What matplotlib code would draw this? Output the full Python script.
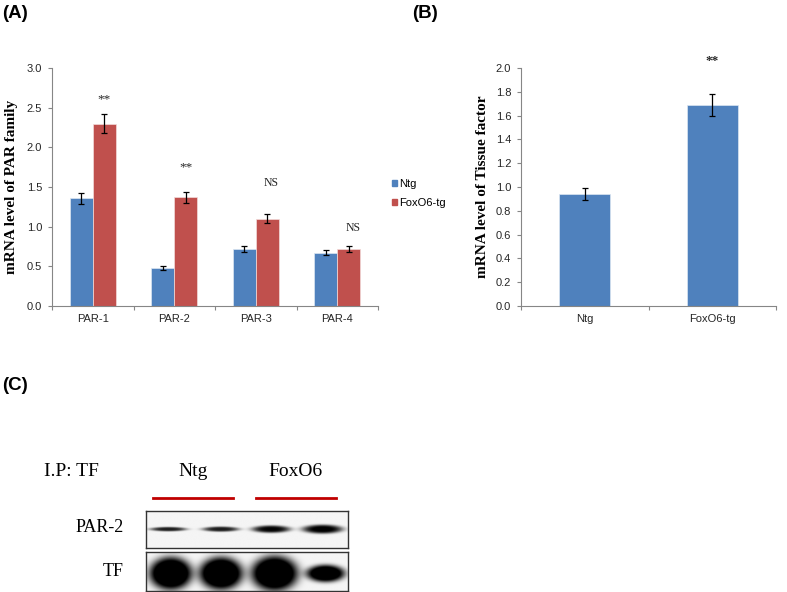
import numpy as np
import matplotlib
matplotlib.use("Agg")
import matplotlib.pyplot as plt
from matplotlib.patches import Patch

# panel A: PAR family mRNA
par_genes = ["PAR-1", "PAR-2", "PAR-3", "PAR-4"]
ntg_par = [1.36, 0.48, 0.72, 0.67]
ntg_par_err = [0.07, 0.03, 0.04, 0.03]
foxo_par = [2.30, 1.37, 1.10, 0.72]
foxo_par_err = [0.12, 0.07, 0.06, 0.04]
par_sig = ["**", "**", "NS", "NS"]
par_sig_y = [2.61, 1.75, 1.55, 0.98]

# panel B: tissue factor mRNA
tf_groups = ["Ntg", "FoxO6-tg"]
tf_vals = [0.94, 1.69]
tf_err = [0.05, 0.09]
tf_sig = ["", "**"]
tf_sig_y = [0, 2.06]

# panel C: blot bands (lane centre, half width, half height, strength)
par2_lane_x = [0.11, 0.37, 0.62, 0.875]
par2_half_w = [0.09, 0.09, 0.095, 0.10]
par2_half_h = [0.06, 0.07, 0.10, 0.12]
par2_strength = [0.85, 0.85, 0.95, 1.0]
tf_lane_x = [0.122, 0.371, 0.637, 0.89]
tf_half_w = [0.105, 0.107, 0.115, 0.095]
tf_half_h = [0.42, 0.42, 0.45, 0.22]
tf_strength = [1.4, 1.4, 1.4, 1.3]

BLUE = "#4F81BD"
RED = "#C0504D"
GRID = "#868686"
TXT = "#262626"

W, H = 787, 592
fig = plt.figure(figsize=(W / 100, H / 100), dpi=100)


def px(x0, y0, x1, y1):
    return [x0 / W, 1 - y1 / H, (x1 - x0) / W, (y1 - y0) / H]


def excel_axes(ax, ncat):
    for s in ["top", "right"]:
        ax.spines[s].set_visible(False)
    for s in ["left", "bottom"]:
        ax.spines[s].set_color(GRID)
        ax.spines[s].set_linewidth(0.8)
    ax.set_xlim(-0.5, ncat - 0.5)
    ax.set_xticks(range(ncat))
    ax.set_xticks(np.arange(-0.5, ncat, 1.0), minor=True)
    ax.tick_params(axis="x", which="major", length=0, pad=6, labelsize=8, labelcolor=TXT)
    ax.tick_params(axis="x", which="minor", length=3, color=GRID, width=0.8)
    ax.tick_params(axis="y", length=3, color=GRID, width=0.8, labelsize=8, labelcolor=TXT, pad=4)
    for lab in ax.get_xticklabels() + ax.get_yticklabels():
        lab.set_family("Liberation Sans")


# ---- (A)
axA = fig.add_axes(px(52, 68, 378, 306))
x = np.arange(len(par_genes))
w = 0.285
ek = dict(ecolor="black", elinewidth=0.9, capsize=2.2, capthick=0.9)
axA.bar(x - w / 2, ntg_par, w, yerr=ntg_par_err, color=BLUE, edgecolor="#dce6f2",
        linewidth=0.5, error_kw=ek, label="Ntg")
axA.bar(x + w / 2, foxo_par, w, yerr=foxo_par_err, color=RED, edgecolor="#f2dcdb",
        linewidth=0.5, error_kw=ek, label="FoxO6-tg")
axA.set_ylim(0, 3.0)
axA.set_yticks(np.arange(0, 3.01, 0.5))
axA.set_yticklabels([f"{v:.1f}" for v in np.arange(0, 3.01, 0.5)])
axA.set_xticklabels(par_genes)
excel_axes(axA, len(par_genes))
for i, (s, yv) in enumerate(zip(par_sig, par_sig_y)):
    axA.text(x[i] + w / 2 + (0.05 if s == "NS" else 0.0), yv, s, ha="center", va="center",
             family="Liberation Serif", fontsize=8.5 if s == "NS" else 9.5, color=TXT)
axA.set_ylabel("mRNA level of PAR family", family="Liberation Serif", fontweight="bold",
               fontsize=11)
axA.yaxis.set_label_coords(-0.103, 0.5)
axA.legend(handles=[Patch(color=BLUE), Patch(color=RED)], labels=["Ntg", "FoxO6-tg"],
           loc="center left", bbox_to_anchor=(392 / W, 1 - 193.5 / H),
           bbox_transform=fig.transFigure, frameon=False, borderpad=0, borderaxespad=0,
           handlelength=0.45, handleheight=0.45, handletextpad=0.2, labelspacing=0.75,
           prop={"family": "Liberation Sans", "size": 8})

# ---- (B)
axB = fig.add_axes(px(521, 68, 776, 306))
xb = np.arange(len(tf_groups))
axB.bar(xb, tf_vals, 0.4, yerr=tf_err, color=BLUE, edgecolor="#dce6f2", linewidth=0.5,
        error_kw=ek)
axB.set_ylim(0, 2.0)
axB.set_yticks(np.arange(0, 2.01, 0.2))
axB.set_yticklabels([f"{v:.1f}" for v in np.arange(0, 2.01, 0.2)])
axB.set_xticklabels(tf_groups)
excel_axes(axB, len(tf_groups))
for i, (s, yv) in enumerate(zip(tf_sig, tf_sig_y)):
    if s:
        axB.text(xb[i], yv, s, ha="center", va="center", family="Liberation Serif",
                 fontsize=9.5, fontweight="bold", color=TXT, clip_on=False)
axB.set_ylabel("mRNA level of Tissue factor", family="Liberation Serif", fontweight="bold",
               fontsize=11)
axB.yaxis.set_label_coords(-0.125, 0.5)


# ---- (C) blot strips
def strip(ax, lx, hw, hh, st, yc):
    xs = np.linspace(0, 1, 500)
    ys = np.linspace(0, 1, 100)
    X, Y = np.meshgrid(xs, ys)
    img = np.full(X.shape, 0.04)
    for cx, a, b, s in zip(lx, hw, hh, st):
        r = ((X - cx) / a) ** 2 + ((Y - yc) / b) ** 2
        img += s * np.exp(-r ** 2)
    ax.imshow(np.clip(img, 0, 1), cmap="gray_r", vmin=0, vmax=1, extent=(0, 1, 1, 0),
              aspect="auto", interpolation="bilinear")
    ax.set_xlim(0, 1)
    ax.set_ylim(1, 0)
    ax.set_xticks([])
    ax.set_yticks([])
    for s in ax.spines.values():
        s.set_color("#333333")
        s.set_linewidth(1.0)


axP = fig.add_axes(px(146, 511, 348, 548))
strip(axP, par2_lane_x, par2_half_w, par2_half_h, par2_strength, 0.49)
axT = fig.add_axes(px(146, 552, 348, 591))
strip(axT, tf_lane_x, tf_half_w, tf_half_h, tf_strength, 0.55)

# overlay for labels and annotations (pixel coordinates)
ov = fig.add_axes([0, 0, 1, 1], zorder=-1)
ov.set_xlim(0, W)
ov.set_ylim(H, 0)
ov.axis("off")
for lbl, lx_, ly_ in [("(A)", 2, 13), ("(B)", 412, 13), ("(C)", 2, 385)]:
    ov.text(lx_, ly_, lbl, family="Liberation Sans", fontweight="bold", fontsize=13.5,
            ha="left", va="center", color="black")
serif = dict(family="Liberation Serif", color="black", va="center")
ov.text(44, 471, "I.P: TF", ha="left", fontsize=14, **serif)
ov.text(193, 471, "Ntg", ha="center", fontsize=14, **serif)
ov.text(295, 471, "FoxO6", ha="center", fontsize=14, **serif)
ov.plot([153, 233], [498, 498], color="#C00000", lw=2)
ov.plot([256, 336], [498, 498], color="#C00000", lw=2)
ov.text(124, 528, "PAR-2", ha="right", fontsize=13, **serif)
ov.text(124, 572, "TF", ha="right", fontsize=13, **serif)

fig.savefig("out.png", dpi=100)
